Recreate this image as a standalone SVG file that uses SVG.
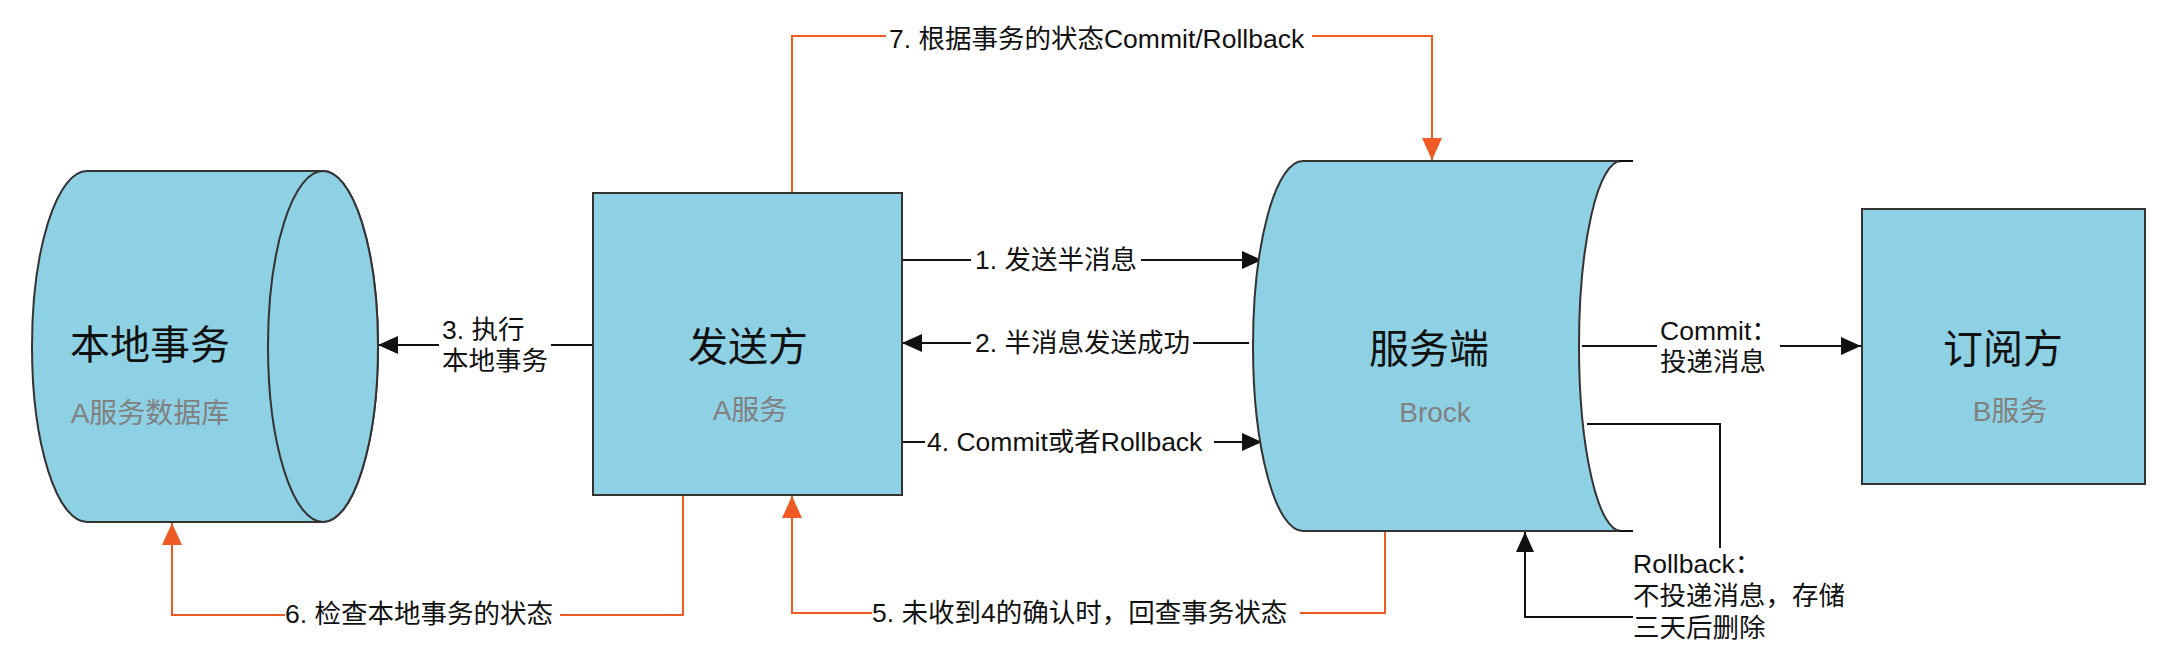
<svg xmlns="http://www.w3.org/2000/svg" width="2180" height="664" viewBox="0 0 2180 664">
<style>
.shape{fill:#8fd1e4;stroke:#333;stroke-width:2}
.title{font-family:"Liberation Sans","Noto Sans CJK SC",sans-serif;font-size:40px;fill:#111;text-anchor:middle}
.sub{font-family:"Liberation Sans","Noto Sans CJK SC",sans-serif;font-size:28px;fill:#808080;text-anchor:middle}
.lbl{font-family:"Liberation Sans","Noto Sans CJK SC",sans-serif;font-size:26.5px;fill:#111}
.blk{fill:none;stroke:#111;stroke-width:2}
.org{fill:none;stroke:#ef5a24;stroke-width:2}
</style>
<defs>
<marker id="ab" markerUnits="userSpaceOnUse" markerWidth="22" markerHeight="22" refX="20" refY="10" orient="auto">
<path d="M0,1 L20,10 L0,19 Z" fill="#111"/>
</marker>
<marker id="ao" markerUnits="userSpaceOnUse" markerWidth="24" markerHeight="24" refX="22" refY="10" orient="auto">
<path d="M0,0 L22,10 L0,20 Z" fill="#ef5a24"/>
</marker>
</defs>
<rect width="2180" height="664" fill="#fff"/>

<g id="connectors">
<path class="blk" d="M902,260 H971 M1141,260 H1262" marker-end="url(#ab)"/>
<path class="blk" d="M1249,343 H1193"/>
<path class="blk" d="M971,343 H902" marker-end="url(#ab)"/>
<path class="blk" d="M593,345 H551"/>
<path class="blk" d="M439,345 H378" marker-end="url(#ab)"/>
<path class="blk" d="M902,442 H925"/>
<path class="blk" d="M1214,442 H1262" marker-end="url(#ab)"/>
<path class="blk" d="M1582,346 H1657"/>
<path class="blk" d="M1780,346 H1861" marker-end="url(#ab)"/>
<path class="blk" d="M1587,424 H1720 V548"/>
<path class="blk" d="M1633,617 H1525 V532" marker-end="url(#ab)"/>
<path class="org" d="M792,193 V36 H886"/>
<path class="org" d="M1312,36 H1432 V160" marker-end="url(#ao)"/>
<path class="org" d="M1385,531 V613 H1300"/>
<path class="org" d="M872,613 H792 V496" marker-end="url(#ao)"/>
<path class="org" d="M683,495 V615 H560"/>
<path class="org" d="M285,615 H172 V523" marker-end="url(#ao)"/>
<text class="lbl" x="975" y="269">1. 发送半消息</text>
<text class="lbl" x="975" y="352">2. 半消息发送成功</text>
<text class="lbl" x="442" y="339">3. 执行</text>
<text class="lbl" x="442" y="370">本地事务</text>
<text class="lbl" x="927" y="451">4. Commit或者Rollback</text>
<text class="lbl" x="872" y="622">5. 未收到4的确认时，回查事务状态</text>
<text class="lbl" x="285" y="623">6. 检查本地事务的状态</text>
<text class="lbl" x="889" y="48">7. 根据事务的状态Commit/Rollback</text>
<text class="lbl" x="1660" y="340">Commit：</text>
<text class="lbl" x="1660" y="371">投递消息</text>
<text class="lbl" x="1633" y="573">Rollback：</text>
<text class="lbl" x="1633" y="605">不投递消息，存储</text>
<text class="lbl" x="1633" y="637">三天后删除</text>
</g>

<g id="local-tx">
<path class="shape" d="M87,171 H323 A55,175.5 0 0 1 323,522 H87 A55,175.5 0 0 1 87,171 Z"/>
<ellipse class="shape" cx="323" cy="346.5" rx="55" ry="175.5"/>
<text class="title" x="150" y="359">本地事务</text>
<text class="sub" x="150" y="423">A服务数据库</text>
</g>

<g id="sender">
<rect class="shape" x="593" y="193" width="309" height="302"/>
<text class="title" x="748" y="361">发送方</text>
<text class="sub" x="750" y="420">A服务</text>
</g>

<g id="broker">
<path class="shape" d="M1303,161 H1621 A42,185 0 0 0 1621,531 H1303 A50,185 0 0 1 1303,161 Z"/>
<path class="blk" d="M1619,161 H1633 M1619,531 H1633"/>
<text class="title" x="1429" y="363">服务端</text>
<text class="sub" x="1435" y="422">Brock</text>
</g>

<g id="subscriber">
<rect class="shape" x="1862" y="209" width="283" height="275"/>
<text class="title" x="2003" y="363">订阅方</text>
<text class="sub" x="2010" y="421">B服务</text>
</g>
</svg>
